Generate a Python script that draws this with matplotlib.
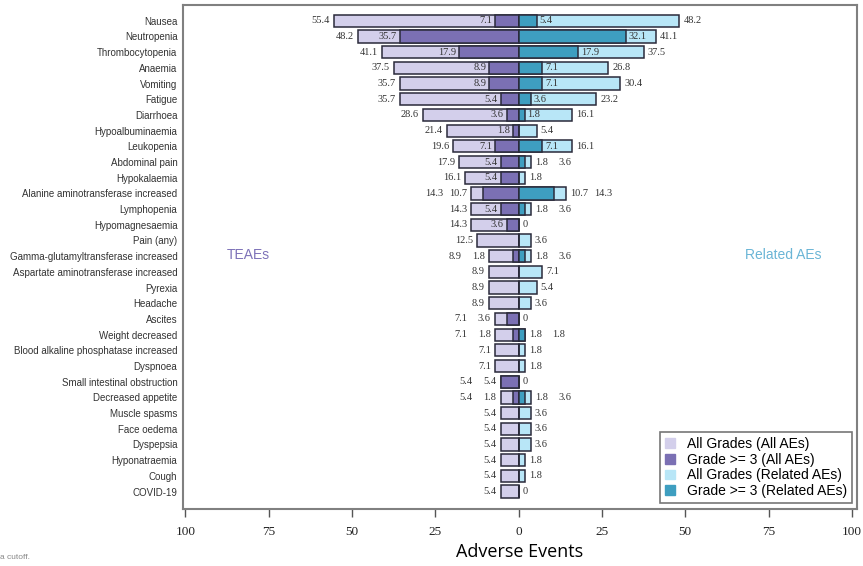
import numpy as np
import matplotlib
matplotlib.use('Agg')
import matplotlib.pyplot as plt
from matplotlib.patches import Patch

# adverse events, top to bottom
events = ['Nausea', 'Neutropenia', 'Thrombocytopenia', 'Anaemia', 'Vomiting', 'Fatigue',
          'Diarrhoea', 'Hypoalbuminaemia', 'Leukopenia', 'Abdominal pain', 'Hypokalaemia',
          'Alanine aminotransferase increased', 'Lymphopenia', 'Hypomagnesaemia', 'Pain (any)',
          'Gamma-glutamyltransferase increased', 'Aspartate aminotransferase increased',
          'Pyrexia', 'Headache', 'Ascites', 'Weight decreased',
          'Blood alkaline phosphatase increased', 'Dyspnoea', 'Small intestinal obstruction',
          'Decreased appetite', 'Muscle spasms', 'Face oedema', 'Dyspepsia', 'Hyponatraemia',
          'Cough', 'COVID-19']

all_any = [55.4, 48.2, 41.1, 37.5, 35.7, 35.7, 28.6, 21.4, 19.6, 17.9, 16.1, 14.3, 14.3, 14.3,
           12.5, 8.9, 8.9, 8.9, 8.9, 7.1, 7.1, 7.1, 7.1, 5.4, 5.4, 5.4, 5.4, 5.4, 5.4, 5.4, 5.4]
all_g3 = [7.1, 35.7, 17.9, 8.9, 8.9, 5.4, 3.6, 1.8, 7.1, 5.4, 5.4, 10.7, 5.4, 3.6,
          0, 1.8, 0, 0, 0, 3.6, 1.8, 0, 0, 5.4, 1.8, 0, 0, 0, 0, 0, 0]
rel_any = [48.2, 41.1, 37.5, 26.8, 30.4, 23.2, 16.1, 5.4, 16.1, 3.6, 1.8, 14.3, 3.6, 0,
           3.6, 3.6, 7.1, 5.4, 3.6, 0, 1.8, 1.8, 1.8, 0, 3.6, 3.6, 3.6, 3.6, 1.8, 1.8, 0]
rel_g3 = [5.4, 32.1, 17.9, 7.1, 7.1, 3.6, 1.8, 0, 7.1, 1.8, 0, 10.7, 1.8, 0,
          0, 1.8, 0, 0, 0, 0, 1.8, 0, 0, 0, 1.8, 0, 0, 0, 0, 0, 0]

c_all = '#d3cfeb'
c_all3 = '#7b70b4'
c_rel = '#b8e6f7'
c_rel3 = '#3e9ec0'
edge = '#2a2a3a'

fig = plt.figure(figsize=(8.63, 5.66), dpi=100)
ax = fig.add_axes([0.212, 0.101, 0.781, 0.890])

y = np.arange(len(events))
h = 0.78
lw = 1.1

ax.barh(y, -np.array(all_any), height=h, color=c_all, edgecolor=edge, linewidth=lw)
ax.barh(y, -np.array(all_g3), height=h, color=c_all3, edgecolor=edge, linewidth=lw)
ax.barh(y, rel_any, height=h, color=c_rel, edgecolor=edge, linewidth=lw)
ax.barh(y, rel_g3, height=h, color=c_rel3, edgecolor=edge, linewidth=lw)

vfont = dict(family='Liberation Serif', fontsize=7.5, color='#333333', va='center')


def fmt(v):
    return '0' if v == 0 else '%.1f' % v


for i in range(len(events)):
    a, g = all_any[i], all_g3[i]
    # left side (all AEs)
    if g > 0 and a - g >= 8:
        ax.annotate(fmt(a), (-a, i), xytext=(-3, 0), textcoords='offset points', ha='right', **vfont)
        ax.annotate(fmt(g), (-g, i), xytext=(-2, 0), textcoords='offset points', ha='right', **vfont)
    elif g > 0:
        ax.annotate(fmt(g), (-a, i), xytext=(-3, 0), textcoords='offset points', ha='right', **vfont)
        ax.annotate(fmt(a), (-a, i), xytext=(-20, 0), textcoords='offset points', ha='right', **vfont)
    else:
        ax.annotate(fmt(a), (-a, i), xytext=(-3, 0), textcoords='offset points', ha='right', **vfont)
    # right side (related AEs)
    a, g = rel_any[i], rel_g3[i]
    if g > 0 and a - g >= 8:
        ax.annotate(fmt(a), (a, i), xytext=(3, 0), textcoords='offset points', ha='left', **vfont)
        ax.annotate(fmt(g), (g, i), xytext=(2, 0), textcoords='offset points', ha='left', **vfont)
    elif g > 0:
        ax.annotate(fmt(g), (a, i), xytext=(3, 0), textcoords='offset points', ha='left', **vfont)
        ax.annotate(fmt(a), (a, i), xytext=(20, 0), textcoords='offset points', ha='left', **vfont)
    else:
        ax.annotate(fmt(a), (a, i), xytext=(3, 0), textcoords='offset points', ha='left', **vfont)

ax.set_xlim(-100.7, 101.5)
ax.set_ylim(len(events) - 1 + 1.1, -1.0)
ax.set_yticks(y)
ax.set_yticklabels(events, family='Liberation Sans', fontsize=7, color='#333333')
ax.tick_params(axis='y', length=0, pad=4)

ticks = [-100, -75, -50, -25, 0, 25, 50, 75, 100]
ax.set_xticks(ticks)
ax.set_xticklabels([str(abs(t)) for t in ticks], family='Liberation Serif', fontsize=9.5, color='#222222')
ax.tick_params(axis='x', direction='out', length=6, width=1, color='#555555', pad=6)
ax.set_xlabel('Adverse Events', family='Open Sans', fontsize=13, labelpad=4)

for s in ax.spines.values():
    s.set_color('#808080')
    s.set_linewidth(1.5)

ax.text(-81, 14.9, 'TEAEs', family='Liberation Sans', fontsize=10, color='#7d72b8', ha='center', va='center')
ax.text(79.5, 14.9, 'Related AEs', family='Liberation Sans', fontsize=10, color='#6ab5d6', ha='center', va='center')

handles = [Patch(color=c_all, label='All Grades (All AEs)'),
           Patch(color=c_all3, label='Grade >= 3 (All AEs)'),
           Patch(color=c_rel, label='All Grades (Related AEs)'),
           Patch(color=c_rel3, label='Grade >= 3 (Related AEs)')]
leg = ax.legend(handles=handles, loc='lower right', bbox_to_anchor=(0.993, 0.012),
                prop={'family': 'Liberation Sans', 'size': 10}, frameon=True, fancybox=False,
                handlelength=0.7, handleheight=0.7, handletextpad=0.9, labelspacing=0.12,
                borderpad=0.35, borderaxespad=0)
leg.get_frame().set_edgecolor('#555555')
leg.get_frame().set_linewidth(1.2)

fig.text(0.0, 0.012, 'a cutoff.', family='Liberation Sans', fontsize=6, color='#888888')

fig.savefig('out.png', dpi=100)
